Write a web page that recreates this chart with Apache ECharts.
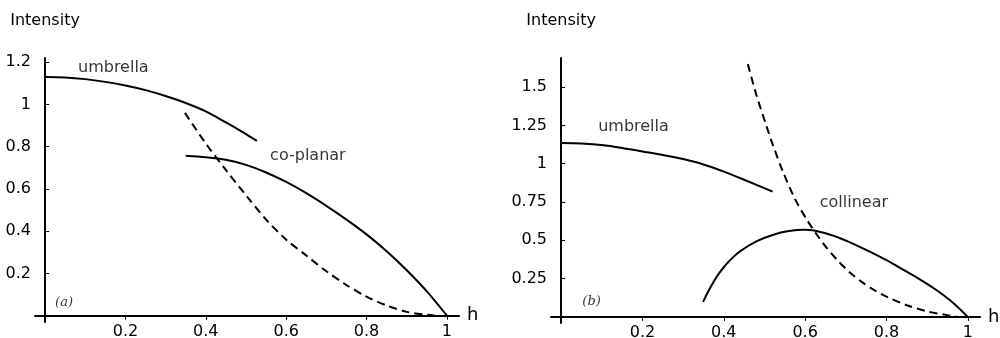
<!DOCTYPE html>
<html>
<head>
<meta charset="utf-8">
<script src="https://cdn.jsdelivr.net/npm/echarts@6/dist/echarts.min.js"></script>
<style>
html,body{margin:0;padding:0;background:#fff;}
#chart{width:1000px;height:338px;}
</style>
</head>
<body>
<div id="chart"></div>
<script>
// ---- data ----
const xTicks = [0.2, 0.4, 0.6, 0.8, 1];
const yTicksA = [0.2, 0.4, 0.6, 0.8, 1, 1.2];
const yTicksB = [0.25, 0.5, 0.75, 1, 1.25, 1.5];

const umbrellaA = [[0,1.13],[0.05,1.128],[0.1,1.12],[0.15,1.107],[0.2,1.09],[0.25,1.068],[0.3,1.04],[0.35,1.007],[0.4,0.967],[0.45,0.915],[0.5,0.86],[0.527,0.828]];
const coplanarA = [[0.35,0.757],[0.4,0.75],[0.45,0.738],[0.5,0.714],[0.55,0.678],[0.6,0.633],[0.65,0.58],[0.7,0.52],[0.75,0.455],[0.8,0.385],[0.85,0.305],[0.9,0.215],[0.95,0.115],[1.0,0]];
const dashedA = [[0.348,0.96],[0.4,0.815],[0.45,0.69],[0.5,0.57],[0.55,0.455],[0.6,0.36],[0.65,0.285],[0.7,0.21],[0.75,0.145],[0.8,0.09],[0.85,0.048],[0.9,0.018],[0.95,0.004],[0.97,0]];

const umbrellaB = [[0,1.135],[0.05,1.132],[0.1,1.122],[0.15,1.103],[0.2,1.08],[0.25,1.057],[0.3,1.03],[0.35,0.995],[0.4,0.948],[0.45,0.895],[0.52,0.818]];
const collinearB = [[0.349,0.098],[0.36,0.158],[0.375,0.23],[0.39,0.29],[0.41,0.355],[0.44,0.428],[0.48,0.493],[0.52,0.535],[0.56,0.56],[0.6,0.568],[0.64,0.553],[0.68,0.52],[0.72,0.475],[0.76,0.424],[0.8,0.37],[0.84,0.31],[0.88,0.248],[0.92,0.18],[0.96,0.1],[1.0,0]];
const dashedB = [[0.459,1.65],[0.48,1.45],[0.505,1.245],[0.521,1.12],[0.545,0.95],[0.575,0.77],[0.604,0.635],[0.628,0.54],[0.65,0.46],[0.68,0.368],[0.71,0.29],[0.74,0.227],[0.77,0.175],[0.8,0.132],[0.85,0.076],[0.9,0.036],[0.95,0.011],[0.975,0]];

const labelsA = [["umbrella",0.082,1.175],["co-planar",0.56,0.758]];
const labelsB = [["umbrella",0.091,1.24],["collinear",0.636,0.745]];
const tagA = [["(a)",0.025,0.062]];
const tagB = [["(b)",0.052,0.098]];

const axisName = "Intensity";
const xName = "h";

// ---- chart ----
const FONT = "DejaVu Sans";
const chart = echarts.init(document.getElementById('chart'), null, {renderer:'canvas'});

function xAxisDef(gi){
  return {
    type:'value', gridIndex:gi, min:-0.025, max:1.03,
    name:xName, nameLocation:'end', nameGap:8,
    nameTextStyle:{color:'#000', fontFamily:FONT, fontSize:18, verticalAlign:'middle'},
    axisLine:{onZero:true, lineStyle:{color:'#000', width:2}},
    axisTick:{show:true, inside:false, length:4, customValues:xTicks, lineStyle:{color:'#000', width:1}},
    axisLabel:{customValues:xTicks, margin:2, color:'#000', fontFamily:FONT, fontSize:16},
    splitLine:{show:false}
  };
}
function yAxisDef(gi, ticks, min, max){
  return {
    type:'value', gridIndex:gi, min:min, max:max,
    name:axisName, nameLocation:'end', nameGap:29,
    nameTextStyle:{color:'#000', fontFamily:FONT, fontSize:16, align:'center'},
    axisLine:{onZero:true, lineStyle:{color:'#000', width:2}},
    axisTick:{show:true, inside:true, length:4, customValues:ticks, lineStyle:{color:'#000', width:1}},
    axisLabel:{customValues:ticks, margin:4, color:'#000', fontFamily:FONT, fontSize:16},
    splitLine:{show:false}
  };
}
function lineSeries(data, xi, dashed){
  return {
    type:'line', xAxisIndex:xi, yAxisIndex:xi, data:data, smooth:0.3,
    symbol:'none', silent:true,
    lineStyle:{color:'#000', width:2, type: dashed ? [8,5] : 'solid'}
  };
}
function textSeries(items, xi, style){
  return {
    type:'scatter', xAxisIndex:xi, yAxisIndex:xi, symbolSize:0, silent:true,
    data:items.map(d=>({name:d[0], value:[d[1],d[2]]})),
    label:Object.assign({show:true, position:'right', distance:0, formatter:p=>p.name, color:'#000'}, style)
  };
}

const option = {
  animation:false,
  backgroundColor:'#fff',
  grid:[
    {left:35, top:58, width:424, height:264, outerBoundsMode:'none', containLabel:false},
    {left:551, top:58, width:429, height:265, outerBoundsMode:'none', containLabel:false}
  ],
  xAxis:[xAxisDef(0), xAxisDef(1)],
  yAxis:[yAxisDef(0, yTicksA, -0.03, 1.22), yAxisDef(1, yTicksB, -0.04, 1.69)],
  series:[
    lineSeries(umbrellaA,0,false),
    lineSeries(coplanarA,0,false),
    lineSeries(dashedA,0,true),
    lineSeries(umbrellaB,1,false),
    lineSeries(collinearB,1,false),
    lineSeries(dashedB,1,true),
    textSeries(labelsA,0,{fontFamily:FONT, fontSize:16}),
    textSeries(labelsB,1,{fontFamily:FONT, fontSize:16}),
    textSeries(tagA,0,{fontFamily:'DejaVu Serif', fontStyle:'italic', fontSize:13}),
    textSeries(tagB,1,{fontFamily:'DejaVu Serif', fontStyle:'italic', fontSize:13})
  ]
};
chart.setOption(option);
</script>
</body>
</html>
